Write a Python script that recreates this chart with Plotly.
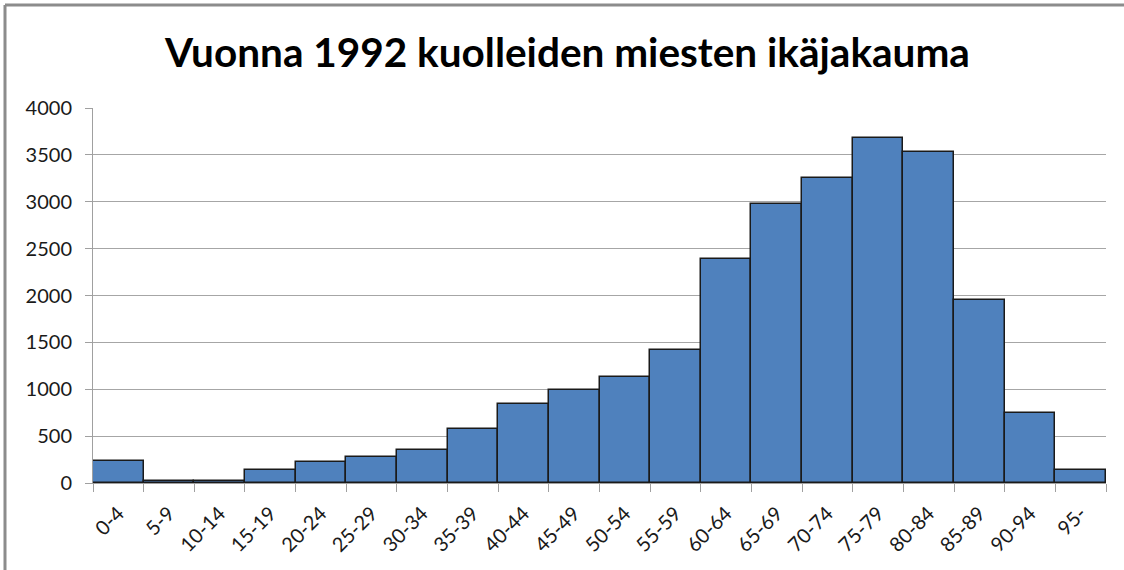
import plotly.graph_objects as go

categories = ["0-4", "5-9", "10-14", "15-19", "20-24", "25-29", "30-34", "35-39",
              "40-44", "45-49", "50-54", "55-59", "60-64", "65-69", "70-74",
              "75-79", "80-84", "85-89", "90-94", "95-"]
deaths = [230, 25, 25, 140, 225, 275, 353, 578, 842, 995, 1135, 1418,
          2385, 2975, 3255, 3675, 3530, 1955, 743, 143]
y_ticks = [0, 500, 1000, 1500, 2000, 2500, 3000, 3500, 4000]

title_text = "Vuonna 1992 kuolleiden miesten ikäjakauma"

fig = go.Figure()
fig.add_trace(go.Bar(
    x=categories, y=deaths,
    marker=dict(color="#4f81bd", line=dict(color="#1a1a1a", width=1.5)),
))

W, H = 1124, 570
ml, mr, mt, mb = 93, 18, 108, 87
pw, ph = W - ml - mr, H - mt - mb

def px_x(px):
    return (px - ml) / pw

def px_y(py):
    return (H - mb - py) / ph

fig.update_layout(
    width=W, height=H,
    margin=dict(l=ml, r=mr, t=mt, b=mb, autoexpand=False),
    paper_bgcolor="white", plot_bgcolor="white",
    bargap=0,
    showlegend=False,
    font=dict(family="Lato, Carlito, Calibri, sans-serif", color="#1a1a1a", size=20),
    title=dict(text="<b>" + title_text + "</b>", x=567.5 / W, xanchor="center",
               y=1 - 53 / H, yanchor="middle",
               font=dict(size=40.5, family="Lato, Carlito, sans-serif", color="#000000")),
    xaxis=dict(
        type="category", tickangle=-45, tickson="boundaries",
        ticks="outside", ticklen=8, tickcolor="#a0a0a0",
        showline=True, linecolor="#a0a0a0", linewidth=1,
        showgrid=False, tickfont=dict(size=20), ticklabelstandoff=10,
    ),
    yaxis=dict(
        range=[0, 4000], tickvals=y_ticks, ticks="outside", ticklen=7,
        tickcolor="#a0a0a0", showline=True, linecolor="#a0a0a0", linewidth=1,
        showgrid=True, gridcolor="#a6a6a6", gridwidth=1, zeroline=False,
        tickfont=dict(size=20), ticklabelstandoff=9,
    ),
    shapes=[
        dict(type="line", xref="paper", yref="paper",
             x0=px_x(5), x1=px_x(1124), y0=px_y(5), y1=px_y(5),
             line=dict(color="#8c8c8c", width=3)),
        dict(type="line", xref="paper", yref="paper",
             x0=px_x(5), x1=px_x(5), y0=px_y(5), y1=px_y(570),
             line=dict(color="#8c8c8c", width=3)),
    ],
)

fig.write_html("out.html", config={"displayModeBar": False},
               post_script="document.body.style.margin='0px';")
